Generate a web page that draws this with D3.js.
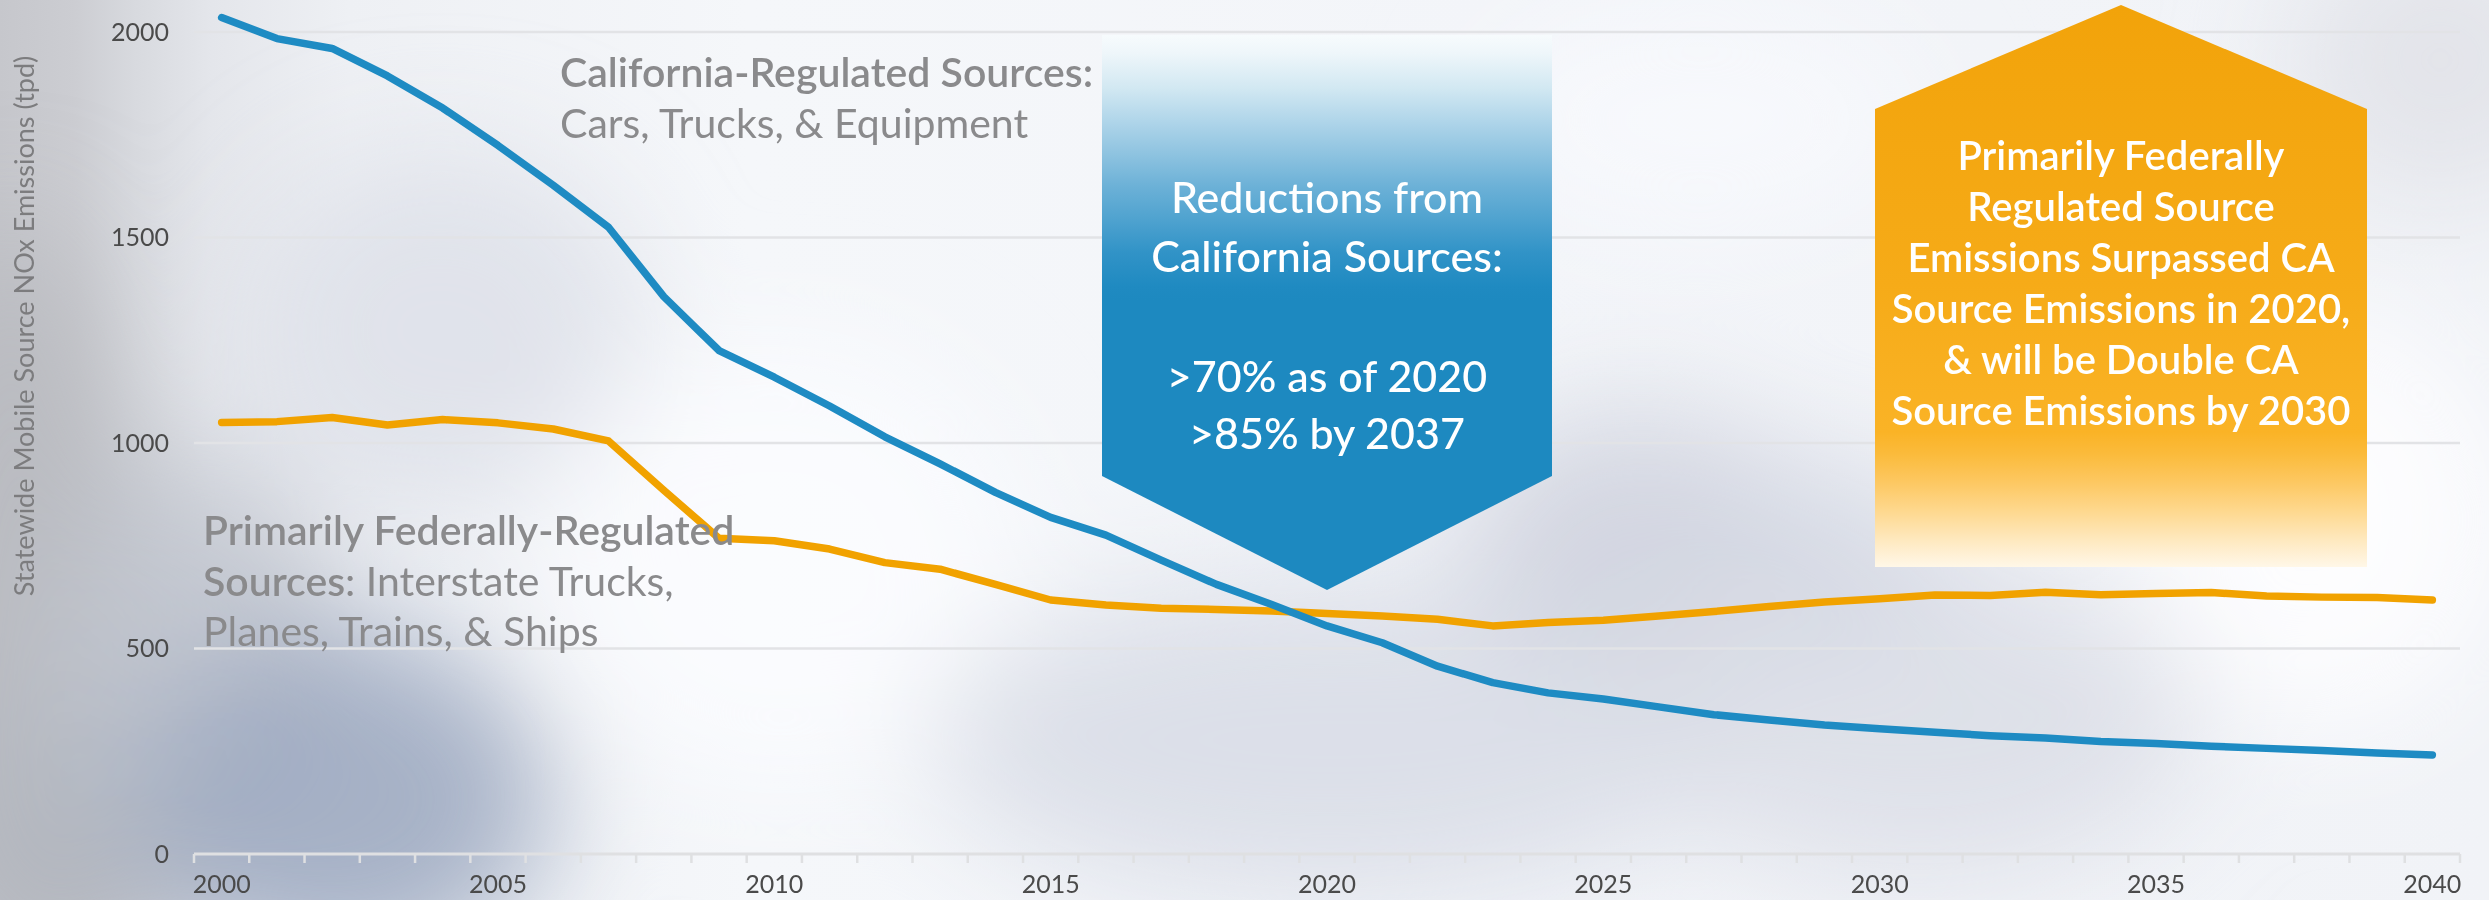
<!DOCTYPE html>
<html>
<head>
<meta charset="utf-8">
<script src="https://cdn.jsdelivr.net/npm/d3@7"></script>
<style>
  html, body { margin: 0; padding: 0; background: #f2f4f8; }
  svg { display: block; }
  text { font-family: "Source Sans Pro", "Lato", sans-serif; }
</style>
</head>
<body>
<svg id="chart" width="2489" height="900"></svg>
<script>
// Statewide mobile source NOx emissions (tons per day), 2000-2040
const years = [2000, 2001, 2002, 2003, 2004, 2005, 2006, 2007, 2008, 2009,
               2010, 2011, 2012, 2013, 2014, 2015, 2016, 2017, 2018, 2019,
               2020, 2021, 2022, 2023, 2024, 2025, 2026, 2027, 2028, 2029,
               2030, 2031, 2032, 2033, 2034, 2035, 2036, 2037, 2038, 2039,
               2040];

// California-regulated sources: cars, trucks & equipment
const caRegulated = [2035, 1984, 1960, 1893, 1815, 1724, 1627, 1525, 1356, 1225,
                     1160, 1090, 1015, 949, 880, 819, 776, 715, 656, 607,
                     555, 514, 457, 417, 392, 377, 358, 339, 326, 314,
                     305, 296, 288, 282, 274, 269, 262, 257, 252, 246,
                     241];

// Primarily federally-regulated sources: interstate trucks, planes, trains & ships
const fedRegulated = [1050, 1052, 1062, 1044, 1057, 1049, 1034, 1005, 885, 768,
                      762, 742, 709, 693, 656, 618, 606, 598, 595, 591,
                      585, 579, 571, 555, 563, 569, 579, 590, 602, 613,
                      621, 630, 629, 637, 631, 634, 636, 628, 625, 624,
                      618];

const yTicks = [0, 500, 1000, 1500, 2000];
const xLabels = [2000, 2005, 2010, 2015, 2020, 2025, 2030, 2035, 2040];

const yTitle = "Statewide Mobile Source NOx Emissions (tpd)";
const caLabel = ["California-Regulated Sources:", "Cars, Trucks, & Equipment"];
const fedLabel = ["Primarily Federally-Regulated", "Sources", ": Interstate Trucks,", "Planes, Trains, & Ships"];
const blueCallout = ["Reductions from", "California Sources:", ">70% as of 2020", ">85% by 2037"];
const orangeCallout = ["Primarily Federally", "Regulated Source", "Emissions Surpassed CA",
                       "Source Emissions in 2020,", "& will be Double CA", "Source Emissions by 2030"];

const W = 2489, H = 900;
const svg = d3.select("#chart");
const defs = svg.append("defs");

// ---------- soft photographic backdrop ----------
const blur = defs.append("filter").attr("id", "haze")
  .attr("filterUnits", "userSpaceOnUse")
  .attr("x", -300).attr("y", -300).attr("width", W + 600).attr("height", H + 600);
blur.append("feGaussianBlur").attr("stdDeviation", 60);

const bgGrad = defs.append("linearGradient").attr("id", "bgGrad")
  .attr("x1", 0).attr("x2", 1).attr("y1", 0).attr("y2", 0);
[[0, "#c6c7cc"], [0.03, "#cccdd2"], [0.055, "#d8dadf"], [0.085, "#e4e6eb"], [0.14, "#eef0f4"],
 [0.3, "#f5f7fa"], [0.6, "#f3f5f9"], [1, "#f1f3f7"]]
  .forEach(([o, c]) => bgGrad.append("stop").attr("offset", o).attr("stop-color", c));

svg.append("rect").attr("width", W).attr("height", H).attr("fill", "url(#bgGrad)");

const haze = svg.append("g").attr("filter", "url(#haze)");
const blobs = [
  { cx: 10,   cy: 600, rx: 110, ry: 380, c: "#b8b9bf", o: 0.9 },
  { cx: 60,   cy: 830, rx: 130, ry: 160, c: "#b3b6be", o: 0.9 },
  { cx: 190,  cy: 660, rx: 150, ry: 200, c: "#c0c4ce", o: 0.85 },
  { cx: 340,  cy: 800, rx: 210, ry: 170, c: "#9eabc1", o: 0.9 },
  { cx: 440,  cy: 330, rx: 200, ry: 180, c: "#dde1e9", o: 0.85 },
  { cx: 780,  cy: 560, rx: 240, ry: 220, c: "#fbfcfe", o: 0.9 },
  { cx: 1330, cy: 740, rx: 400, ry: 160, c: "#d9dde7", o: 0.9 },
  { cx: 1640, cy: 540, rx: 180, ry: 130, c: "#cfd3de", o: 0.9 },
  { cx: 1920, cy: 720, rx: 280, ry: 160, c: "#dadde6", o: 0.85 },
  { cx: 1830, cy: 560, rx: 130, ry: 100, c: "#d5d8e3", o: 0.8 },
  { cx: 2320, cy: 520, rx: 190, ry: 210, c: "#fdfdfe", o: 0.95 },
  { cx: 2440, cy: 60,  rx: 150, ry: 140, c: "#e0e2e8", o: 0.85 },
  { cx: 1700, cy: 120, rx: 220, ry: 110, c: "#fafbfd", o: 0.7 }
];
haze.selectAll("ellipse").data(blobs).join("ellipse")
  .attr("cx", d => d.cx).attr("cy", d => d.cy)
  .attr("rx", d => d.rx).attr("ry", d => d.ry)
  .attr("fill", d => d.c).attr("opacity", d => d.o);

// ---------- scales ----------
const x = d3.scaleBand().domain(years).range([194, 2460]).paddingInner(0).paddingOuter(0);
const y = d3.scaleLinear().domain([0, 2000]).range([854, 32]);
const xc = yr => x(yr) + x.bandwidth() / 2;

// ---------- gridlines ----------
svg.append("g").selectAll("line").data(yTicks.filter(v => v > 0)).join("line")
  .attr("x1", x.range()[0]).attr("x2", x.range()[1])
  .attr("y1", d => y(d)).attr("y2", d => y(d))
  .attr("stroke", "#e2e3e6").attr("stroke-width", 2.5);

// ---------- axes ----------
const axisColor = "#dfe0e2";
const tickTextColor = "#4a4a4a";

svg.append("line")
  .attr("x1", x.range()[0]).attr("x2", x.range()[1])
  .attr("y1", y(0)).attr("y2", y(0))
  .attr("stroke", axisColor).attr("stroke-width", 3);

const boundaries = years.map(yr => x(yr)).concat([x.range()[1]]);
svg.append("g").selectAll("line").data(boundaries).join("line")
  .attr("x1", d => d).attr("x2", d => d)
  .attr("y1", y(0)).attr("y2", y(0) + 9)
  .attr("stroke", axisColor).attr("stroke-width", 2.5);

const xAxis = svg.append("g")
  .attr("transform", `translate(0,${y(0)})`)
  .call(d3.axisBottom(x).tickValues(xLabels).tickSize(0).tickPadding(21));
xAxis.select(".domain").remove();
xAxis.selectAll("text")
  .attr("font-family", "'Source Sans Pro', 'Lato', sans-serif")
  .attr("font-size", 25).attr("fill", tickTextColor);

const yAxis = svg.append("g")
  .attr("transform", `translate(${x.range()[0]},0)`)
  .call(d3.axisLeft(y).tickValues(yTicks).tickFormat(d3.format("d")).tickSize(0).tickPadding(25));
yAxis.select(".domain").remove();
yAxis.selectAll("text")
  .attr("font-family", "'Source Sans Pro', 'Lato', sans-serif")
  .attr("font-size", 25).attr("fill", tickTextColor);

svg.append("text")
  .attr("transform", `translate(34,326) rotate(-90)`)
  .attr("text-anchor", "middle")
  .attr("font-size", 27).attr("fill", "#7c7c7e")
  .text(yTitle);

// ---------- callouts ----------
const blueGrad = defs.append("linearGradient").attr("id", "blueGrad")
  .attr("gradientUnits", "userSpaceOnUse").attr("x1", 0).attr("x2", 0).attr("y1", 35).attr("y2", 300);
[[0, "#f7fbfd"], [0.07, "#eef6fa"], [0.2, "#d2e8f2"], [0.32, "#b1d6ea"], [0.45, "#8ec3e0"],
 [0.57, "#6cb1d7"], [0.7, "#4ea2cf"], [0.82, "#3193c7"], [0.95, "#1f8ac1"], [1, "#1d89c0"]]
  .forEach(([o, c]) => blueGrad.append("stop").attr("offset", o).attr("stop-color", c));

const orangeGrad = defs.append("linearGradient").attr("id", "orangeGrad")
  .attr("gradientUnits", "userSpaceOnUse").attr("x1", 0).attr("x2", 0).attr("y1", 5).attr("y2", 567);
[[0, "#f2a30a"], [0.5, "#f6ab18"], [0.76, "#fab326"], [0.8, "#fbbb3c"], [0.85, "#fdc862"],
 [0.9, "#fed88e"], [0.95, "#fee8bd"], [1, "#fff7e8"]]
  .forEach(([o, c]) => orangeGrad.append("stop").attr("offset", o).attr("stop-color", c));

// downward arrow pointing at 2020
const bx = xc(2020), bHalf = 225, bTop = 35, bShoulder = 476, bTip = 590;
svg.append("path")
  .attr("d", `M${bx - bHalf},${bTop} L${bx + bHalf},${bTop} L${bx + bHalf},${bShoulder} L${bx},${bTip} L${bx - bHalf},${bShoulder} Z`)
  .attr("fill", "url(#blueGrad)");

const blueBaselines = [213, 272, 392, 449];
svg.append("g").selectAll("text").data(blueCallout).join("text")
  .attr("x", bx).attr("y", (d, i) => blueBaselines[i])
  .attr("text-anchor", "middle").attr("font-size", 43).attr("font-weight", 500)
  .attr("fill", "#ffffff").text(d => d);

// upward arrow box on the right
const ox = 2121, oHalf = 246, oApex = 5, oShoulder = 109, oBottom = 567;
svg.append("path")
  .attr("d", `M${ox},${oApex} L${ox + oHalf},${oShoulder} L${ox + oHalf},${oBottom} L${ox - oHalf},${oBottom} L${ox - oHalf},${oShoulder} Z`)
  .attr("fill", "url(#orangeGrad)");

const orangeBaselines = [170, 221, 272, 323, 374, 425];
svg.append("g").selectAll("text").data(orangeCallout).join("text")
  .attr("x", ox).attr("y", (d, i) => orangeBaselines[i])
  .attr("text-anchor", "middle").attr("font-size", 40).attr("font-weight", 600)
  .attr("fill", "#ffffff").text(d => d);

// ---------- series lines ----------
const line = d3.line()
  .x((d, i) => xc(years[i]))
  .y(d => y(d));

svg.append("path").datum(fedRegulated)
  .attr("d", line).attr("fill", "none")
  .attr("stroke", "#f1a200").attr("stroke-width", 7.5)
  .attr("stroke-linejoin", "round").attr("stroke-linecap", "round");

svg.append("path").datum(caRegulated)
  .attr("d", line).attr("fill", "none")
  .attr("stroke", "#1e8bc3").attr("stroke-width", 7.5)
  .attr("stroke-linejoin", "round").attr("stroke-linecap", "round");

// ---------- series annotations ----------
const noteColor = "#8a8a8c";
const caNote = svg.append("g").attr("font-size", 41).attr("fill", noteColor);
caNote.append("text").attr("x", 560).attr("y", 87).attr("font-weight", 600).text(caLabel[0]);
caNote.append("text").attr("x", 560).attr("y", 138).attr("font-weight", 400).text(caLabel[1]);

const fedNote = svg.append("g").attr("font-size", 41).attr("fill", noteColor);
fedNote.append("text").attr("x", 203).attr("y", 545).attr("font-weight", 600).text(fedLabel[0]);
const l2 = fedNote.append("text").attr("x", 203).attr("y", 596);
l2.append("tspan").attr("font-weight", 600).text(fedLabel[1]);
l2.append("tspan").attr("font-weight", 400).text(fedLabel[2]);
fedNote.append("text").attr("x", 203).attr("y", 646).attr("font-weight", 400).text(fedLabel[3]);
</script>
</body>
</html>
